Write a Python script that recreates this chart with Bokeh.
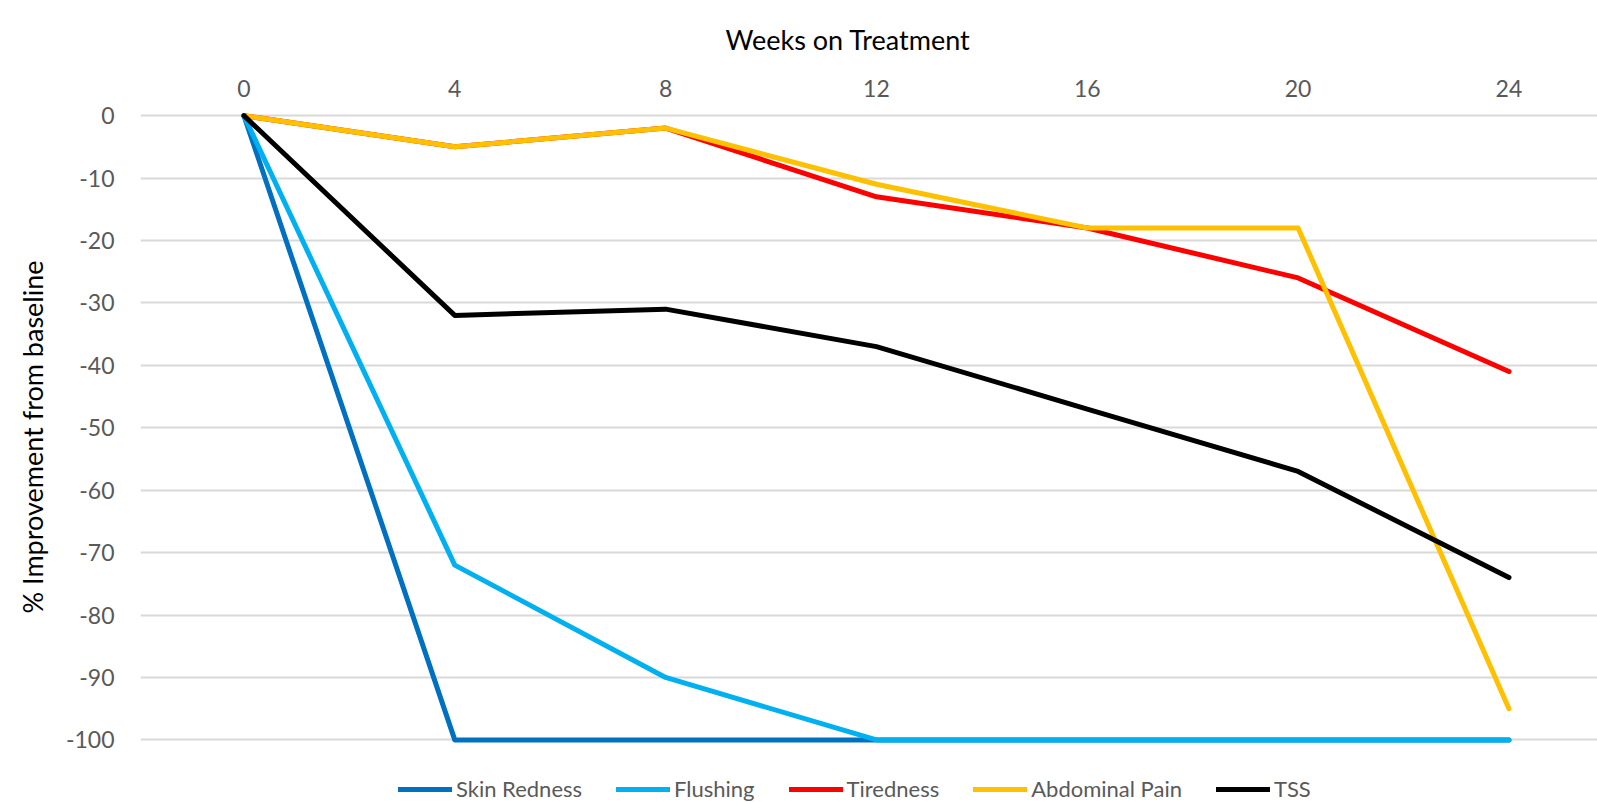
from bokeh.plotting import figure
from bokeh.models import Range1d, FixedTicker, LinearAxis, Legend, LegendItem, CustomJSTickFormatter, Title
from bokeh.embed import file_html
from bokeh.resources import INLINE

weeks = [0, 4, 8, 12, 16, 20, 24]
skin_redness = [0, -100, -100, -100, -100, -100, -100]
flushing = [0, -72, -90, -100, -100, -100, -100]
tiredness = [0, -5, -2, -13, -18, -26, -41]
abdominal_pain = [0, -5, -2, -11, -18, -18, -95]
tss = [0, -32, -31, -37, -47, -57, -74]

series_names = ["Skin Redness", "Flushing", "Tiredness", "Abdominal Pain", "TSS"]
series_values = [skin_redness, flushing, tiredness, abdominal_pain, tss]
series_colors = ["#0070C0", "#00B0F0", "#FF0000", "#FFC000", "#000000"]

y_ticks = list(range(-100, 1, 10))
x_title = "Weeks on Treatment"
y_title = "% Improvement from baseline"

FONT = "Lato"

p = figure(width=1597, height=802, output_backend="svg", toolbar_location=None,
           x_range=Range1d(-1.962, 25.68), y_range=Range1d(-110.03, 0.5),
           x_axis_location=None, y_axis_location=None,
           min_border_left=140, min_border_right=0, min_border_top=112, min_border_bottom=0)
p.outline_line_color = None
p.background_fill_color = "white"
p.border_fill_color = "white"

# top x axis
xa = LinearAxis(ticker=FixedTicker(ticks=weeks),
                formatter=CustomJSTickFormatter(code="return tick.toFixed(0);"))
xa.axis_line_color = None
xa.major_tick_line_color = None
xa.minor_tick_line_color = None
xa.major_tick_out = 0
xa.major_tick_in = 0
xa.major_label_standoff = 16
xa.major_label_text_font = FONT
xa.major_label_text_font_size = "23px"
xa.major_label_text_color = "#595959"
p.add_layout(xa, "above")

ya = LinearAxis(ticker=FixedTicker(ticks=y_ticks),
                formatter=CustomJSTickFormatter(code="return tick.toFixed(0);"))
ya.axis_line_color = None
ya.major_tick_line_color = None
ya.minor_tick_line_color = None
ya.major_tick_out = 0
ya.major_tick_in = 0
ya.major_label_standoff = 26
ya.major_label_text_font = FONT
ya.major_label_text_font_size = "23px"
ya.major_label_text_color = "#595959"
p.add_layout(ya, "left")

t_x = Title(text=x_title, align="left", offset=585, standoff=41,
            text_font=FONT, text_font_size="27px", text_font_style="normal", text_color="#000000")
p.add_layout(t_x, "above")

t_y = Title(text=y_title, align="right", offset=148, standoff=27,
            text_font=FONT, text_font_size="27px", text_font_style="normal", text_color="#000000")
p.add_layout(t_y, "left")

p.xgrid.visible = False
p.ygrid.ticker = FixedTicker(ticks=y_ticks)
p.ygrid.grid_line_color = "#D9D9D9"
p.ygrid.grid_line_width = 2

items = []
for name, vals, col in zip(series_names, series_values, series_colors):
    r = p.line(weeks, vals, line_color=col, line_width=5, line_cap="round", line_join="round")
    items.append(LegendItem(label=name, renderers=[r]))

legend = Legend(items=items, orientation="horizontal", location=(258, 0))
legend.glyph_width = 54
legend.glyph_height = 20
legend.label_standoff = 4
legend.spacing = 34
legend.padding = 0
legend.margin = 0
legend.border_line_color = None
legend.background_fill_alpha = 0
legend.label_text_font = FONT
legend.label_text_font_size = "22px"
legend.label_text_color = "#595959"
p.add_layout(legend, "center")

open("out.html", "w").write(file_html(p, INLINE))
